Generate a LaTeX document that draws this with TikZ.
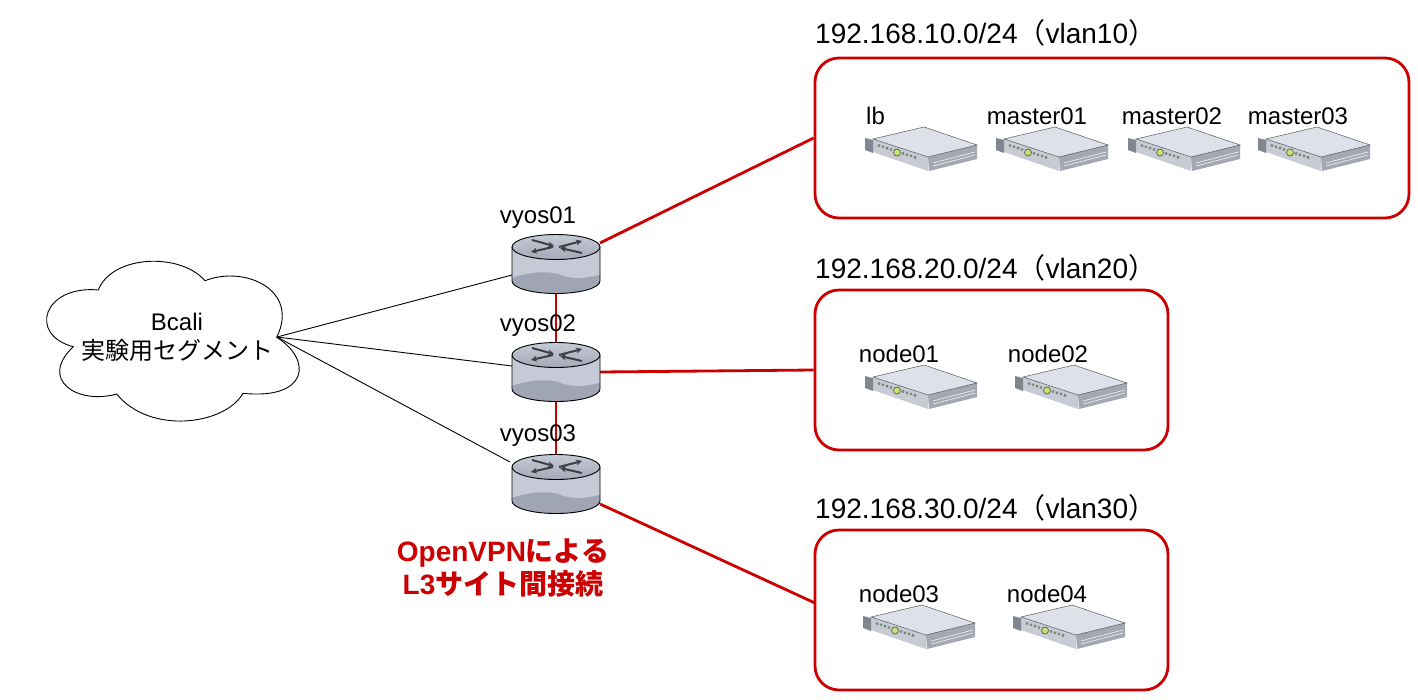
\documentclass[tikz,border=0pt]{standalone}
\usepackage{fontspec}
\setmainfont{Liberation Sans}
\newfontfamily\cjk{Noto Sans CJK JP}
\newfontfamily\cjkb{Noto Sans CJK JP Bold}
\usetikzlibrary{backgrounds,arrows.meta}
\definecolor{netred}{RGB}{204,0,0}
\definecolor{rtop}{RGB}{184,188,204}
\definecolor{rside}{RGB}{198,202,214}
\definecolor{rlow}{RGB}{160,165,180}
\definecolor{rmark}{RGB}{62,64,70}
\definecolor{stop}{RGB}{222,225,234}
\definecolor{sfront}{RGB}{200,203,212}
\definecolor{sside}{RGB}{165,168,180}
\definecolor{sear}{RGB}{130,134,144}
\tikzset{
  x=1pt,y=-1pt,
  lbl/.style={font=\fontsize{24}{28}\selectfont,inner sep=0pt},
  title/.style={font=\fontsize{28}{32}\selectfont,inner sep=0pt,anchor=west},
  vpn/.style={font=\fontsize{28}{33}\selectfont\bfseries,text=netred,inner sep=0pt,align=center},
  netbox/.style={draw=netred,line width=2.8pt,rounded corners=24pt,inner sep=0pt},
  redlink/.style={draw=netred,line width=2.8pt},
  thinlink/.style={draw=black,line width=0.9pt},
  router/.pic={
    \fill[rside] (-44,0) -- (-44,34) arc[start angle=180,end angle=0,x radius=44,y radius=12.5] -- (44,0) -- cycle;
    \fill[rlow] (-44,31) .. controls (-25,24) and (-5,24) .. (5,28) .. controls (20,34) and (32,30) .. (44,28) -- (44,34) arc[start angle=0,end angle=180,x radius=44,y radius=12.5] -- cycle;
    \shade[top color=rside,bottom color=rtop!90!black] (0,0) ellipse[x radius=44,y radius=12.5];
    \draw[black,line width=0.9pt] (-44,0) -- (-44,34) arc[start angle=180,end angle=0,x radius=44,y radius=12.5] -- (44,0);
    \draw[black,line width=0.9pt] (0,0) ellipse[x radius=44,y radius=12.5];
    \draw[rmark,line width=2pt,-{Stealth[length=6pt,width=6pt]}] (-24,-7) -- (-2,-1);
    \draw[rmark,line width=2pt,-{Stealth[length=6pt,width=6pt]}] (-3,0) -- (-25,5);
    \draw[rmark,line width=2pt,-{Stealth[length=6pt,width=6pt]}] (3,0) -- (26,-6);
    \draw[rmark,line width=2pt,-{Stealth[length=6pt,width=6pt]}] (26,6) -- (4,1);
    \coordinate (-la) at (-44,28);
    \coordinate (-lb) at (-44,11);
    \coordinate (-lc) at (-46,-5);
    \coordinate (-ra) at (44,-4);
    \coordinate (-rb) at (44,17);
    \coordinate (-rc) at (44,37);
    \coordinate (-top) at (0,0);
    \coordinate (-bot) at (0,47);
  },
  server/.pic={
    \fill[stop] (8,12) -- (59,0) -- (112,18) -- (63,30) -- cycle;
    \fill[sfront] (8,12) -- (63,30) -- (63,44) -- (8,25) -- cycle;
    \fill[sside] (63,30) -- (112,18) -- (112,32) -- (64,44) -- cycle;
    \fill[sear] (0,11) -- (8,13) -- (8,26) -- (0,23) -- cycle;
    \draw[gray!70!black,line width=0.5pt] (8,12) -- (59,0) -- (112,18) -- (63,30) -- cycle;
    \draw[white!85!gray,line width=0.7pt] (68,36) -- (110,25) (68,39) -- (110,28);
    \foreach \i in {14,18,22,26,38,42,46,50}
      \fill[stop!60!green!60!gray,draw=gray!70!black,line width=0.3pt] (\i,{16.5+(\i-8)*0.33}) circle[radius=1.2];
    \fill[yellow!60!green!60!white,draw=gray!60!black,line width=0.6pt] (32,25.5) circle[radius=3.5];
  }
}
\begin{document}
\begin{tikzpicture}
\useasboundingbox (0,0) rectangle (1418,699);
\begin{scope}[on background layer]
\fill[white] (0,0) rectangle (1418,699);
\end{scope}
% boxes
\node[netbox,minimum width=594pt,minimum height=160pt] (box1) at (1112,138) {};
\node[netbox,minimum width=353pt,minimum height=160pt] (box2) at (991.5,370) {};
\node[netbox,minimum width=353pt,minimum height=160pt] (box3) at (991.5,610) {};
\coordinate (box3in) at (815,603);
% titles
\node[title] (t1) at (815,33) {192.168.10.0/24{\cjk （}vlan10{\cjk ）}};
\node[title] (t2) at (815,268) {192.168.20.0/24{\cjk （}vlan20{\cjk ）}};
\node[title] (t3) at (815,508) {192.168.30.0/24{\cjk （}vlan30{\cjk ）}};
% cloud
\draw[black,line width=0.9pt,fill=white]
  (98.3,290) .. controls (112,255) and (180,252) .. (205,280.7)
  .. controls (245,265) and (300,290) .. (276.7,337.3)
  .. controls (313,360) and (308,400) .. (243,393.3)
  .. controls (225,425) and (150,435) .. (116.7,394)
  .. controls (78,405) and (38,380) .. (73.3,346.7)
  .. controls (28,335) and (43,285) .. (98.3,290) -- cycle;
\coordinate (cloudr) at (277,337);
\node[lbl,align=center] (cloud) at (177,337) {Bcali\\[1pt]{\cjk 実験用セグメント}};
% routers
\pic (r1) at (556,247) {router};
\pic (r2) at (556,355) {router};
\pic (r3) at (556,467) {router};
\node[lbl] (l1) at (538,218) {vyos01};
\node[lbl] (l2) at (538,326) {vyos02};
\node[lbl] (l3) at (538,436) {vyos03};
% servers
\pic (s1) at (865,127) {server};
\pic (s2) at (996,127) {server};
\pic (s3) at (1128,127) {server};
\pic (s4) at (1258,127) {server};
\pic (s5) at (865,365) {server};
\pic (s6) at (1015,365) {server};
\pic (s7) at (863,605) {server};
\pic (s8) at (1013,605) {server};
\node[lbl,anchor=west] (n1) at (866,116) {lb};
\node[lbl] (n2) at (1037,116) {master01};
\node[lbl] (n3) at (1172,116) {master02};
\node[lbl] (n4) at (1298,116) {master03};
\node[lbl] (n5) at (899,354) {node01};
\node[lbl] (n6) at (1048,354) {node02};
\node[lbl] (n7) at (899,594) {node03};
\node[lbl] (n8) at (1047,594) {node04};
\node[vpn] (vpn) at (503,568) {OpenVPN{\cjkb による}\\L3{\cjkb サイト間接続}};
% connectors
\begin{scope}[on background layer]
\draw[thinlink] (cloudr) -- (r1-la);
\draw[thinlink] (cloudr) -- (r2-lb);
\draw[thinlink] (cloudr) -- (r3-lc);
\draw[redlink] (r1-bot) -- (r2-top);
\draw[redlink] (r2-bot) -- (r3-top);
\draw[redlink] (r1-ra) -- (box1.west);
\draw[redlink] (r2-rb) -- (box2.west);
\draw[redlink] (r3-rc) -- (box3in);
\end{scope}
\end{tikzpicture}
\end{document}
